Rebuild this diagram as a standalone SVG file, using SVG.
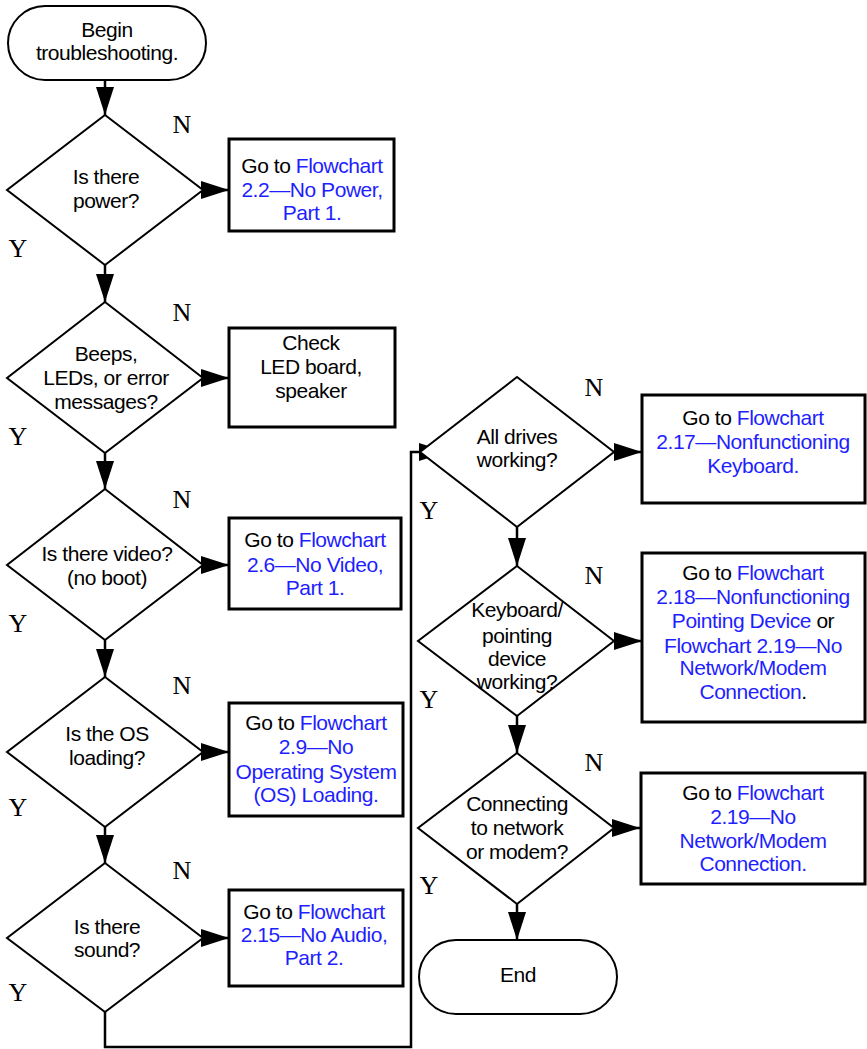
<svg xmlns="http://www.w3.org/2000/svg" width="867" height="1049" viewBox="0 0 867 1049">
<style>
.t{font-family:"Liberation Sans",Arial,sans-serif;font-size:21px;letter-spacing:-0.45px;fill:#000;text-anchor:middle}
.b{fill:#1e1eff}
.k{fill:#000}
.yn{font-family:"Liberation Serif","Times New Roman",serif;font-size:26px;fill:#000;text-anchor:middle}
.dia{fill:#fff;stroke:#000;stroke-width:2}
.box{fill:#fff;stroke:#000;stroke-width:3}
.term{fill:#fff;stroke:#000;stroke-width:2}
.c{fill:none;stroke:#000;stroke-width:2.5}
</style>
<defs>
<marker id="ah" markerUnits="userSpaceOnUse" markerWidth="28" markerHeight="18" refX="28" refY="9" orient="auto">
<path d="M0,0 L28,9 L0,18 z" fill="#000"/>
</marker>
</defs>
<g id="connectors">
<line class="c" x1="105" y1="80" x2="105" y2="115" marker-end="url(#ah)"/>
<line class="c" x1="203" y1="190" x2="229" y2="190" marker-end="url(#ah)"/>
<line class="c" x1="105" y1="265" x2="105" y2="302" marker-end="url(#ah)"/>
<line class="c" x1="203" y1="378" x2="229" y2="378" marker-end="url(#ah)"/>
<line class="c" x1="105" y1="453" x2="105" y2="489" marker-end="url(#ah)"/>
<line class="c" x1="203" y1="565" x2="229" y2="565" marker-end="url(#ah)"/>
<line class="c" x1="105" y1="640" x2="105" y2="677" marker-end="url(#ah)"/>
<line class="c" x1="203" y1="752" x2="229" y2="752" marker-end="url(#ah)"/>
<line class="c" x1="105" y1="827" x2="105" y2="863" marker-end="url(#ah)"/>
<line class="c" x1="203" y1="938" x2="229" y2="938" marker-end="url(#ah)"/>
<polyline class="c" points="105,1012 105,1047 411,1047 411,452 447,452" marker-end="url(#ah)"/>
<line class="c" x1="614" y1="452" x2="642" y2="452" marker-end="url(#ah)"/>
<line class="c" x1="517" y1="527" x2="517" y2="566" marker-end="url(#ah)"/>
<line class="c" x1="614" y1="641" x2="642" y2="641" marker-end="url(#ah)"/>
<line class="c" x1="517" y1="716" x2="517" y2="753" marker-end="url(#ah)"/>
<line class="c" x1="614" y1="828" x2="640" y2="828" marker-end="url(#ah)"/>
<line class="c" x1="517" y1="904" x2="517" y2="940" marker-end="url(#ah)"/>
</g>
<g id="start">
<rect class="term" x="8" y="6" width="198" height="74" rx="37" ry="37"/>
<text class="t"><tspan x="107" y="37">Begin</tspan><tspan x="107" y="60">troubleshooting.</tspan></text>
</g>
<g id="d1">
<polygon class="dia" points="105,115 203,190 105,265 7,190"/>
<text class="t"><tspan x="106" y="184">Is there</tspan><tspan x="106" y="208">power?</tspan></text>
<text class="yn" x="182" y="133">N</text>
<text class="yn" x="18" y="257">Y</text>
</g>
<g id="b1">
<rect class="box" x="229" y="139" width="165" height="92"/>
<text class="t"><tspan x="312" y="173">Go to <tspan class="b">Flowchart</tspan></tspan><tspan class="b" x="312" y="197">2.2—No Power,</tspan><tspan class="b" x="312" y="220">Part 1.</tspan></text>
</g>
<g id="d2">
<polygon class="dia" points="105,302 203,378 105,453 7,378"/>
<text class="t"><tspan x="106" y="361">Beeps,</tspan><tspan x="106" y="385">LEDs, or error</tspan><tspan x="106" y="409">messages?</tspan></text>
<text class="yn" x="182" y="321">N</text>
<text class="yn" x="18" y="445">Y</text>
</g>
<g id="b2">
<rect class="box" x="229" y="328" width="166" height="99"/>
<text class="t"><tspan x="311" y="350">Check</tspan><tspan x="311" y="374">LED board,</tspan><tspan x="311" y="398">speaker</tspan></text>
</g>
<g id="d3">
<polygon class="dia" points="105,489 203,565 105,640 7,565"/>
<text class="t"><tspan x="107" y="561">Is there video?</tspan><tspan x="107" y="585">(no boot)</tspan></text>
<text class="yn" x="182" y="508">N</text>
<text class="yn" x="18" y="632">Y</text>
</g>
<g id="b3">
<rect class="box" x="229" y="518" width="172" height="91"/>
<text class="t"><tspan x="315" y="547">Go to <tspan class="b">Flowchart</tspan></tspan><tspan class="b" x="315" y="572">2.6—No Video,</tspan><tspan class="b" x="315" y="595">Part 1.</tspan></text>
</g>
<g id="d4">
<polygon class="dia" points="105,677 203,752 105,827 7,752"/>
<text class="t"><tspan x="107" y="741">Is the OS</tspan><tspan x="107" y="765">loading?</tspan></text>
<text class="yn" x="182" y="694">N</text>
<text class="yn" x="18" y="816">Y</text>
</g>
<g id="b4">
<rect class="box" x="229" y="703" width="174" height="113"/>
<text class="t"><tspan x="316" y="730">Go to <tspan class="b">Flowchart</tspan></tspan><tspan class="b" x="316" y="754">2.9—No</tspan><tspan class="b" x="316" y="779">Operating System</tspan><tspan class="b" x="316" y="802">(OS) Loading.</tspan></text>
</g>
<g id="d5">
<polygon class="dia" points="105,863 203,938 105,1012 7,938"/>
<text class="t"><tspan x="107" y="934">Is there</tspan><tspan x="107" y="957">sound?</tspan></text>
<text class="yn" x="182" y="879">N</text>
<text class="yn" x="18" y="1001">Y</text>
</g>
<g id="b5">
<rect class="box" x="229" y="890" width="174" height="96"/>
<text class="t"><tspan x="314" y="919">Go to <tspan class="b">Flowchart</tspan></tspan><tspan class="b" x="314" y="942">2.15—No Audio,</tspan><tspan class="b" x="314" y="965">Part 2.</tspan></text>
</g>
<g id="d6">
<polygon class="dia" points="517,377 614,452 517,527 420,452"/>
<text class="t"><tspan x="517" y="444">All drives</tspan><tspan x="517" y="467">working?</tspan></text>
<text class="yn" x="594" y="396">N</text>
<text class="yn" x="429" y="519">Y</text>
</g>
<g id="b6">
<rect class="box" x="642" y="395" width="223" height="108"/>
<text class="t"><tspan x="753" y="425">Go to <tspan class="b">Flowchart</tspan></tspan><tspan class="b" x="753" y="449">2.17—Nonfunctioning</tspan><tspan class="b" x="753" y="473">Keyboard.</tspan></text>
</g>
<g id="d7">
<polygon class="dia" points="517,566 614,641 517,716 418,641"/>
<text class="t"><tspan x="517" y="617">Keyboard/</tspan><tspan x="517" y="643">pointing</tspan><tspan x="517" y="666">device</tspan><tspan x="517" y="689">working?</tspan></text>
<text class="yn" x="594" y="584">N</text>
<text class="yn" x="429" y="708">Y</text>
</g>
<g id="b7">
<rect class="box" x="642" y="553" width="223" height="169"/>
<text class="t"><tspan x="753" y="580">Go to <tspan class="b">Flowchart</tspan></tspan><tspan class="b" x="753" y="604">2.18—Nonfunctioning</tspan><tspan x="753" y="628"><tspan class="b">Pointing Device</tspan> or</tspan><tspan class="b" x="753" y="653">Flowchart 2.19—No</tspan><tspan class="b" x="753" y="675">Network/Modem</tspan><tspan x="753" y="699"><tspan class="b">Connection</tspan>.</tspan></text>
</g>
<g id="d8">
<polygon class="dia" points="517,753 614,828 517,904 418,828"/>
<text class="t"><tspan x="517" y="811">Connecting</tspan><tspan x="517" y="835">to network</tspan><tspan x="517" y="859">or modem?</tspan></text>
<text class="yn" x="594" y="771">N</text>
<text class="yn" x="429" y="894">Y</text>
</g>
<g id="b8">
<rect class="box" x="641" y="773" width="224" height="111"/>
<text class="t"><tspan x="753" y="800">Go to <tspan class="b">Flowchart</tspan></tspan><tspan class="b" x="753" y="824">2.19—No</tspan><tspan class="b" x="753" y="848">Network/Modem</tspan><tspan class="b" x="753" y="871">Connection.</tspan></text>
</g>
<g id="end">
<rect class="term" x="419" y="940" width="198" height="74" rx="37" ry="37"/>
<text class="t" x="518" y="982">End</text>
</g>
</svg>
